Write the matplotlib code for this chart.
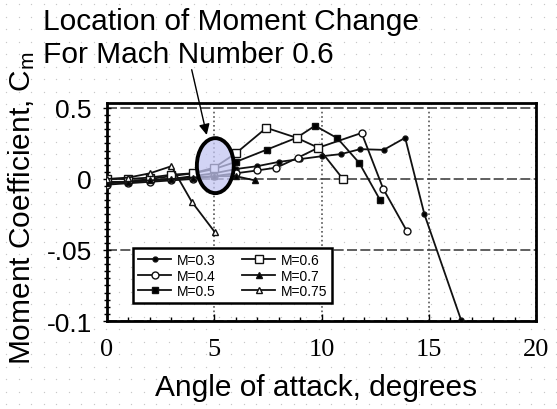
import matplotlib
matplotlib.use("Agg")
import matplotlib.pyplot as plt
from matplotlib.patches import Ellipse
from matplotlib.ticker import MultipleLocator
import numpy as np

plt.rcParams["font.family"] = ["Liberation Sans", "DejaVu Sans"]
plt.rcParams["mathtext.fontset"] = "custom"
plt.rcParams["mathtext.rm"] = "Liberation Sans"
plt.rcParams["mathtext.it"] = "Liberation Sans"

# pitching moment curves, one per Mach number
alpha_m30 = [0, 1, 2, 3, 4, 5, 6, 7, 8, 9, 10, 10.9, 11.8, 12.9, 13.9, 14.8, 16.5]
cm_m30 = [-0.003, -0.002, -0.001, 0.0, 0.002, 0.004, 0.007, 0.009, 0.012, 0.014,
          0.016, 0.0175, 0.021, 0.0205, 0.029, -0.025, -0.099]

alpha_m40 = [0, 1, 2, 3, 4, 5, 6, 7, 7.9, 8.9, 9.85, 11.87, 12.88, 13.97]
cm_m40 = [-0.004, -0.003, -0.002, -0.001, 0.0, 0.002, 0.004, 0.006, 0.008, 0.015,
          0.022, 0.0324, -0.007, -0.0364]

alpha_m50 = [0, 1, 2, 3, 4, 5, 6, 7.44, 8.84, 9.7, 10.74, 11.76, 12.73]
cm_m50 = [-0.002, -0.002, 0.0, 0.002, 0.004, 0.007, 0.012, 0.0206, 0.029, 0.0375,
          0.0287, 0.0113, -0.0148]

alpha_m60 = [0, 1, 2, 3, 4, 5, 6, 7.43, 8.84, 9.85, 11.0]
cm_m60 = [0.0, 0.0, 0.001, 0.003, 0.004, 0.008, 0.018, 0.036, 0.029, 0.022, 0.0]

alpha_m70 = [0, 1, 2, 3, 4, 5, 6, 6.9]
cm_m70 = [-0.003, -0.002, -0.001, 0.0, 0.001, 0.002, 0.002, -0.001]

alpha_m75 = [0, 1, 2, 3, 3.95, 5.03]
cm_m75 = [0.0, 0.001, 0.004, 0.009, -0.016, -0.0375]

mach_labels = ["M=0.3", "M=0.4", "M=0.5", "M=0.6", "M=0.7", "M=0.75"]
x_ticks = [0, 5, 10, 15, 20]
x_tick_labels = ["0", "5", "10", "15", "20"]
y_ticks = [-0.1, -0.05, 0.0, 0.05]
y_tick_labels = ["-0.1", "-.05", "0", "0.5"]

W, H = 557, 410
fig = plt.figure(figsize=(W / 100, H / 100), dpi=100)

# faint dot texture behind everything
bg = fig.add_axes([0, 0, 1, 1], zorder=-5)
bg.set_xlim(0, W)
bg.set_ylim(H, 0)
bg.axis("off")
gx, gy = np.meshgrid(np.arange(6, W, 12.5), np.arange(5, H, 12.5))
bg.scatter(gx.ravel(), gy.ravel(), s=0.9, color="#c8c8c8", linewidths=0)

ax = fig.add_axes([107 / W, 1 - 322 / H, (536 - 107) / W, (322 - 104) / H])
ax.set_facecolor("none")

series = [
    (alpha_m30, cm_m30, dict(marker="o", ms=3.5, mfc="black")),
    (alpha_m40, cm_m40, dict(marker="o", ms=5, mfc="white")),
    (alpha_m50, cm_m50, dict(marker="s", ms=4.5, mfc="black")),
    (alpha_m60, cm_m60, dict(marker="s", ms=5.5, mfc="white")),
    (alpha_m70, cm_m70, dict(marker="^", ms=5, mfc="black")),
    (alpha_m75, cm_m75, dict(marker="^", ms=4.5, mfc="white")),
]
for (xs, ys, style), label in zip(series, mach_labels):
    ax.plot(xs, ys, color="#111111", lw=1.3, mec="#111111", mew=1.0,
            label=label, zorder=3, **style)

ax.set_xlim(0, 20)
ax.set_ylim(-0.1, 0.0535)
ax.set_xticks(x_ticks)
ax.set_xticklabels(x_tick_labels, family="Liberation Serif", fontsize=19)
ax.set_yticks(y_ticks)
ax.set_yticklabels(y_tick_labels, fontsize=19)
ax.xaxis.set_minor_locator(MultipleLocator(1))
ax.yaxis.set_minor_locator(MultipleLocator(0.005))
ax.tick_params(axis="x", which="major", direction="in", length=5, width=1, pad=12)
ax.tick_params(axis="x", which="minor", direction="in", length=3, width=1)
ax.tick_params(axis="y", which="major", direction="inout", length=6, width=1, pad=8)
ax.tick_params(axis="y", which="minor", direction="inout", length=4, width=1)

ax.grid(True, axis="x", which="major", ls=":", lw=1.2, color="#555555")
ax.grid(True, axis="y", which="major", ls=(0, (6, 2)), lw=1.2, color="#444444")
for sp in ax.spines.values():
    sp.set_linewidth(2)

# highlight where the M=0.6 moment breaks
ell = Ellipse((5.05, 0.0094), 1.72, 0.0387, facecolor="#c4c6f2", alpha=0.75,
              edgecolor="none", zorder=4)
ax.add_patch(ell)
ax.add_patch(Ellipse((5.05, 0.0094), 1.72, 0.0387, facecolor="none",
                     edgecolor="black", lw=2.8, zorder=5))

ax.annotate("", xy=(4.65, 0.031), xycoords="data",
            xytext=(191.7 / W, 1 - 70.7 / H), textcoords="figure fraction",
            arrowprops=dict(arrowstyle="-|>", lw=1.0, color="black",
                            mutation_scale=16, shrinkA=0, shrinkB=0), zorder=6)

fig.text(43 / W, 1 - 30 / H, "Location of Moment Change", fontsize=21.5,
         ha="left", va="baseline")
fig.text(43 / W, 1 - 63 / H, "For Mach Number 0.6", fontsize=21.5,
         ha="left", va="baseline")

fig.text(316 / W, 1 - 388 / H, "Angle of attack, degrees", fontsize=21.5,
         ha="center", va="center")
fig.text(22 / W, 1 - 208 / H, r"Moment Coefficient, C$_{\mathrm{m}}$", fontsize=21.5,
         rotation=90, ha="center", va="center")

leg = ax.legend(ncol=2, loc="upper left", bbox_to_anchor=(133 / W, 1 - 249 / H),
                bbox_transform=fig.transFigure, fontsize=10, frameon=True,
                fancybox=False, framealpha=1, edgecolor="black",
                borderpad=0.35, handlelength=2.4, handletextpad=0.4,
                columnspacing=1.9, labelspacing=0.12, borderaxespad=0)
leg.get_frame().set_linewidth(1.8)
leg.set_zorder(7)

fig.savefig("out.png", dpi=100)
